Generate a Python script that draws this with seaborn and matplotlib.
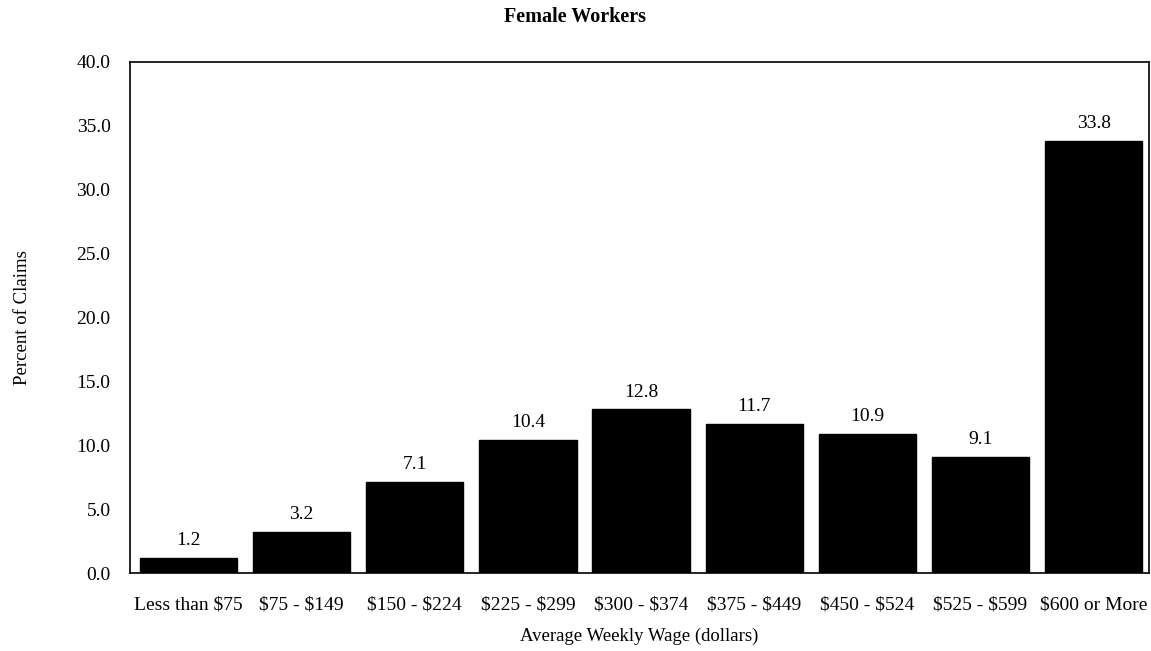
import matplotlib
matplotlib.use('Agg')
import matplotlib.pyplot as plt
import seaborn as sns
import pandas as pd

# dados
categorias = ['Less than $75', '$75 - $149', '$150 - $224', '$225 - $299', '$300 - $374',
              '$375 - $449', '$450 - $524', '$525 - $599', '$600 or More']
percentuais = [1.2, 3.2, 7.1, 10.4, 12.8, 11.7, 10.9, 9.1, 33.8]
ticks_y = [0, 5, 10, 15, 20, 25, 30, 35, 40]

df = pd.DataFrame({'faixa': categorias, 'pct': percentuais})

sns.set_style('white')
plt.rcParams['font.family'] = ['Liberation Serif', 'DejaVu Serif']
plt.rcParams['text.parse_math'] = False
plt.rcParams['text.color'] = 'black'
plt.rcParams['axes.labelcolor'] = 'black'
plt.rcParams['xtick.color'] = 'black'
plt.rcParams['ytick.color'] = 'black'

fig = plt.figure(figsize=(11.51, 6.51), dpi=100)
ax = fig.add_axes([130 / 1151, 1 - 573 / 651, 1019 / 1151, 511 / 651])

sns.barplot(data=df, x='faixa', y='pct', color='black', width=0.86, ax=ax,
            saturation=1, edgecolor='black')

for i, v in enumerate(percentuais):
    ax.text(i, v + 0.7, f'{v:.1f}', ha='center', va='bottom', fontsize=14)

ax.set_ylim(0, 40)
ax.set_yticks(ticks_y)
ax.set_yticklabels([f'{t:.1f}' for t in ticks_y], fontsize=14)
ax.tick_params(axis='x', labelsize=14, length=0, pad=17)
ax.tick_params(axis='y', length=0, pad=14)
ax.set_xlim(-0.517, len(categorias) - 0.51)

for s in ax.spines.values():
    s.set_visible(True)
    s.set_color('black')
    s.set_linewidth(1.2)

ax.set_xlabel('Average Weekly Wage (dollars)', fontsize=13.5, labelpad=10)
ax.set_ylabel('Percent of Claims', fontsize=13.5, labelpad=33)
fig.text(0.5, 1 - 17 / 651, 'Female Workers', ha='center', va='center',
         fontsize=14.5, fontweight='bold')

fig.savefig('out.png', dpi=100)
plt.close(fig)
